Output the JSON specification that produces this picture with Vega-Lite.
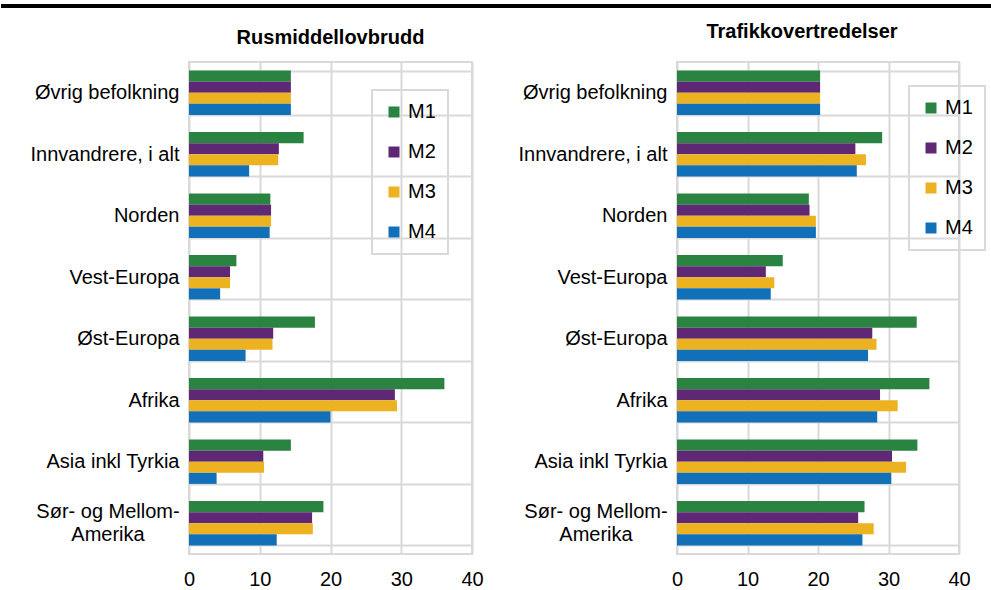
{
  "$schema": "https://vega.github.io/schema/vega-lite/v6.json",
  "padding": {"left": 0, "top": 3, "right": 0, "bottom": 0},
  "background": "white",
  "config": {
    "font": "Liberation Sans",
    "view": {"stroke": "#d9d9d9", "strokeWidth": 2},
    "legend": {"strokeWidth": 2}
  },
  "datasets": {
    "d": [
      {"panel": "Rusmiddellovbrudd", "group": "Øvrig befolkning", "model": "M1", "value": 14.4},
      {"panel": "Rusmiddellovbrudd", "group": "Øvrig befolkning", "model": "M2", "value": 14.4},
      {"panel": "Rusmiddellovbrudd", "group": "Øvrig befolkning", "model": "M3", "value": 14.4},
      {"panel": "Rusmiddellovbrudd", "group": "Øvrig befolkning", "model": "M4", "value": 14.4},
      {"panel": "Rusmiddellovbrudd", "group": "Innvandrere, i alt", "model": "M1", "value": 16.2},
      {"panel": "Rusmiddellovbrudd", "group": "Innvandrere, i alt", "model": "M2", "value": 12.7},
      {"panel": "Rusmiddellovbrudd", "group": "Innvandrere, i alt", "model": "M3", "value": 12.6},
      {"panel": "Rusmiddellovbrudd", "group": "Innvandrere, i alt", "model": "M4", "value": 8.5},
      {"panel": "Rusmiddellovbrudd", "group": "Norden", "model": "M1", "value": 11.5},
      {"panel": "Rusmiddellovbrudd", "group": "Norden", "model": "M2", "value": 11.6},
      {"panel": "Rusmiddellovbrudd", "group": "Norden", "model": "M3", "value": 11.6},
      {"panel": "Rusmiddellovbrudd", "group": "Norden", "model": "M4", "value": 11.4},
      {"panel": "Rusmiddellovbrudd", "group": "Vest-Europa", "model": "M1", "value": 6.7},
      {"panel": "Rusmiddellovbrudd", "group": "Vest-Europa", "model": "M2", "value": 5.8},
      {"panel": "Rusmiddellovbrudd", "group": "Vest-Europa", "model": "M3", "value": 5.8},
      {"panel": "Rusmiddellovbrudd", "group": "Vest-Europa", "model": "M4", "value": 4.4},
      {"panel": "Rusmiddellovbrudd", "group": "Øst-Europa", "model": "M1", "value": 17.8},
      {"panel": "Rusmiddellovbrudd", "group": "Øst-Europa", "model": "M2", "value": 11.9},
      {"panel": "Rusmiddellovbrudd", "group": "Øst-Europa", "model": "M3", "value": 11.8},
      {"panel": "Rusmiddellovbrudd", "group": "Øst-Europa", "model": "M4", "value": 8.0},
      {"panel": "Rusmiddellovbrudd", "group": "Afrika", "model": "M1", "value": 36.1},
      {"panel": "Rusmiddellovbrudd", "group": "Afrika", "model": "M2", "value": 29.1},
      {"panel": "Rusmiddellovbrudd", "group": "Afrika", "model": "M3", "value": 29.4},
      {"panel": "Rusmiddellovbrudd", "group": "Afrika", "model": "M4", "value": 20.0},
      {"panel": "Rusmiddellovbrudd", "group": "Asia inkl Tyrkia", "model": "M1", "value": 14.4},
      {"panel": "Rusmiddellovbrudd", "group": "Asia inkl Tyrkia", "model": "M2", "value": 10.5},
      {"panel": "Rusmiddellovbrudd", "group": "Asia inkl Tyrkia", "model": "M3", "value": 10.6},
      {"panel": "Rusmiddellovbrudd", "group": "Asia inkl Tyrkia", "model": "M4", "value": 3.9},
      {"panel": "Rusmiddellovbrudd", "group": "Sør- og Mellom-Amerika", "model": "M1", "value": 19.0},
      {"panel": "Rusmiddellovbrudd", "group": "Sør- og Mellom-Amerika", "model": "M2", "value": 17.4},
      {"panel": "Rusmiddellovbrudd", "group": "Sør- og Mellom-Amerika", "model": "M3", "value": 17.5},
      {"panel": "Rusmiddellovbrudd", "group": "Sør- og Mellom-Amerika", "model": "M4", "value": 12.4},
      {"panel": "Trafikkovertredelser", "group": "Øvrig befolkning", "model": "M1", "value": 20.3},
      {"panel": "Trafikkovertredelser", "group": "Øvrig befolkning", "model": "M2", "value": 20.3},
      {"panel": "Trafikkovertredelser", "group": "Øvrig befolkning", "model": "M3", "value": 20.3},
      {"panel": "Trafikkovertredelser", "group": "Øvrig befolkning", "model": "M4", "value": 20.3},
      {"panel": "Trafikkovertredelser", "group": "Innvandrere, i alt", "model": "M1", "value": 29.1},
      {"panel": "Trafikkovertredelser", "group": "Innvandrere, i alt", "model": "M2", "value": 25.3},
      {"panel": "Trafikkovertredelser", "group": "Innvandrere, i alt", "model": "M3", "value": 26.8},
      {"panel": "Trafikkovertredelser", "group": "Innvandrere, i alt", "model": "M4", "value": 25.5},
      {"panel": "Trafikkovertredelser", "group": "Norden", "model": "M1", "value": 18.7},
      {"panel": "Trafikkovertredelser", "group": "Norden", "model": "M2", "value": 18.8},
      {"panel": "Trafikkovertredelser", "group": "Norden", "model": "M3", "value": 19.7},
      {"panel": "Trafikkovertredelser", "group": "Norden", "model": "M4", "value": 19.7},
      {"panel": "Trafikkovertredelser", "group": "Vest-Europa", "model": "M1", "value": 15.0},
      {"panel": "Trafikkovertredelser", "group": "Vest-Europa", "model": "M2", "value": 12.6},
      {"panel": "Trafikkovertredelser", "group": "Vest-Europa", "model": "M3", "value": 13.8},
      {"panel": "Trafikkovertredelser", "group": "Vest-Europa", "model": "M4", "value": 13.3},
      {"panel": "Trafikkovertredelser", "group": "Øst-Europa", "model": "M1", "value": 34.0},
      {"panel": "Trafikkovertredelser", "group": "Øst-Europa", "model": "M2", "value": 27.7},
      {"panel": "Trafikkovertredelser", "group": "Øst-Europa", "model": "M3", "value": 28.3},
      {"panel": "Trafikkovertredelser", "group": "Øst-Europa", "model": "M4", "value": 27.1},
      {"panel": "Trafikkovertredelser", "group": "Afrika", "model": "M1", "value": 35.8},
      {"panel": "Trafikkovertredelser", "group": "Afrika", "model": "M2", "value": 28.8},
      {"panel": "Trafikkovertredelser", "group": "Afrika", "model": "M3", "value": 31.3},
      {"panel": "Trafikkovertredelser", "group": "Afrika", "model": "M4", "value": 28.4},
      {"panel": "Trafikkovertredelser", "group": "Asia inkl Tyrkia", "model": "M1", "value": 34.1},
      {"panel": "Trafikkovertredelser", "group": "Asia inkl Tyrkia", "model": "M2", "value": 30.5},
      {"panel": "Trafikkovertredelser", "group": "Asia inkl Tyrkia", "model": "M3", "value": 32.5},
      {"panel": "Trafikkovertredelser", "group": "Asia inkl Tyrkia", "model": "M4", "value": 30.4},
      {"panel": "Trafikkovertredelser", "group": "Sør- og Mellom-Amerika", "model": "M1", "value": 26.6},
      {"panel": "Trafikkovertredelser", "group": "Sør- og Mellom-Amerika", "model": "M2", "value": 25.7},
      {"panel": "Trafikkovertredelser", "group": "Sør- og Mellom-Amerika", "model": "M3", "value": 27.9},
      {"panel": "Trafikkovertredelser", "group": "Sør- og Mellom-Amerika", "model": "M4", "value": 26.3}
    ]
  },
  "spacing": 12,
  "vconcat": [
    {
      "width": 803,
      "height": 4,
      "data": {"values": [{"v": 0}, {"v": 1}]},
      "mark": {"type": "point", "opacity": 0},
      "encoding": {
        "color": {
          "field": "v", "type": "quantitative",
          "scale": {"range": ["black", "black"]},
          "legend": {"orient": "none", "legendX": -188, "legendY": 0, "direction": "horizontal", "title": null, "gradientLength": 991, "gradientThickness": 4, "gradientStrokeWidth": 0, "labelExpr": "''", "labelFontSize": 1, "padding": 0, "strokeColor": null, "tickCount": 1}
        }
      },
      "view": {"stroke": null}
    },
    {
      "spacing": 32,
      "resolve": {"scale": {"color": "independent"}, "legend": {"color": "independent"}},
      "hconcat": [
        {
          "width": 283,
          "height": 492,
          "data": {"name": "d"},
          "transform": [{"filter": "datum.panel === 'Rusmiddellovbrudd'"}],
          "title": {"text": "Rusmiddellovbrudd", "fontSize": 20, "fontWeight": "bold", "anchor": "middle", "offset": 4, "color": "black"},
          "mark": {"type": "bar"},
          "encoding": {
            "y": {
              "field": "group", "type": "nominal", "sort": null,
              "scale": {"paddingInner": 0.28, "paddingOuter": 0.14},
              "axis": {
                "title": null, "labelFontSize": 20, "labelColor": "black",
                "labelPadding": {"condition": {"test": "datum.value === 'Sør- og Mellom-Amerika'", "value": 81.5}, "value": 10},
                "labelAlign": {"condition": {"test": "datum.value === 'Sør- og Mellom-Amerika'", "value": "center"}, "value": "right"},
                "labelOffset": {"condition": {"test": "datum.value === 'Sør- og Mellom-Amerika'", "value": -11.5}, "value": 0},
                "ticks": false, "domain": false, "grid": true, "gridColor": "#d9d9d9", "gridWidth": 2,
                "tickBand": "extent", "labelLimit": 400, "labelLineHeight": 23, "minExtent": 188,
                "labelExpr": "datum.value === 'Sør- og Mellom-Amerika' ? ['Sør- og Mellom-', 'Amerika'] : datum.value"
              }
            },
            "x": {
              "field": "value", "type": "quantitative",
              "scale": {"domain": [0, 40], "nice": false},
              "axis": {"title": null, "values": [0, 10, 20, 30, 40], "labelFontSize": 20, "labelColor": "black", "labelPadding": 15, "ticks": false, "domain": false, "grid": true, "gridColor": "#d9d9d9", "gridWidth": 2, "labelFlush": false}
            },
            "yOffset": {"field": "model", "type": "nominal", "scale": {"paddingInner": 0}},
            "color": {
              "field": "model", "type": "nominal",
              "scale": {"domain": ["M1", "M2", "M3", "M4"], "range": ["#2b8342", "#5f2875", "#ecb220", "#1270b9"]},
              "legend": {"orient": "none", "legendX": 183, "legendY": 28, "title": null, "symbolType": "square", "symbolSize": 121, "symbolStrokeWidth": 0, "labelFontSize": 20, "labelColor": "black", "rowPadding": 20, "padding": 12, "labelOffset": 4, "strokeColor": "#d9d9d9"}
            }
          }
        },
        {
          "width": 282,
          "height": 492,
          "data": {"name": "d"},
          "transform": [{"filter": "datum.panel === 'Trafikkovertredelser'"}],
          "title": {"text": "Trafikkovertredelser", "fontSize": 20, "fontWeight": "bold", "anchor": "middle", "offset": 10, "dx": -16, "color": "black"},
          "mark": {"type": "bar"},
          "encoding": {
            "y": {
              "field": "group", "type": "nominal", "sort": null,
              "scale": {"paddingInner": 0.28, "paddingOuter": 0.14},
              "axis": {
                "title": null, "labelFontSize": 20, "labelColor": "black",
                "labelPadding": {"condition": {"test": "datum.value === 'Sør- og Mellom-Amerika'", "value": 81.5}, "value": 10},
                "labelAlign": {"condition": {"test": "datum.value === 'Sør- og Mellom-Amerika'", "value": "center"}, "value": "right"},
                "labelOffset": {"condition": {"test": "datum.value === 'Sør- og Mellom-Amerika'", "value": -11.5}, "value": 0},
                "ticks": false, "domain": false, "grid": true, "gridColor": "#d9d9d9", "gridWidth": 2,
                "tickBand": "extent", "labelLimit": 400, "labelLineHeight": 23,
                "labelExpr": "datum.value === 'Sør- og Mellom-Amerika' ? ['Sør- og Mellom-', 'Amerika'] : datum.value"
              }
            },
            "x": {
              "field": "value", "type": "quantitative",
              "scale": {"domain": [0, 40], "nice": false},
              "axis": {"title": null, "values": [0, 10, 20, 30, 40], "labelFontSize": 20, "labelColor": "black", "labelPadding": 15, "ticks": false, "domain": false, "grid": true, "gridColor": "#d9d9d9", "gridWidth": 2, "labelFlush": false}
            },
            "yOffset": {"field": "model", "type": "nominal", "scale": {"paddingInner": 0}},
            "color": {
              "field": "model", "type": "nominal",
              "scale": {"domain": ["M1", "M2", "M3", "M4"], "range": ["#2b8342", "#5f2875", "#ecb220", "#1270b9"]},
              "legend": {"orient": "none", "legendX": 232, "legendY": 24, "title": null, "symbolType": "square", "symbolSize": 121, "symbolStrokeWidth": 0, "labelFontSize": 20, "labelColor": "black", "rowPadding": 20, "padding": 12, "labelOffset": 4, "strokeColor": "#d9d9d9"}
            }
          }
        }
      ]
    }
  ]
}
